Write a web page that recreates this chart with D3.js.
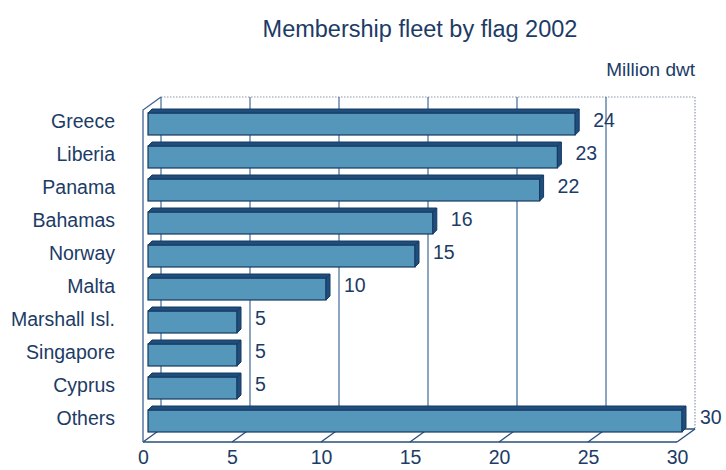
<!DOCTYPE html>
<html>
<head>
<meta charset="utf-8">
<script src="https://cdn.jsdelivr.net/npm/d3@7"></script>
<style>
  html, body { margin: 0; padding: 0; background: #fff; }
  svg { display: block; font-family: "Liberation Sans", Arial, Helvetica, sans-serif; }
</style>
</head>
<body>
<svg id="chart" width="726" height="470"></svg>
<script>
// Membership fleet by flag, 2002 (million dwt)
const flags = ["Greece", "Liberia", "Panama", "Bahamas", "Norway", "Malta",
               "Marshall Isl.", "Singapore", "Cyprus", "Others"];
const dwt = [24, 23, 22, 16, 15, 10, 5, 5, 5, 30];
const xTicks = [0, 5, 10, 15, 20, 25, 30];
const titleText = "Membership fleet by flag 2002";
const unitText = "Million dwt";

const ink = "#1c3b66";
const barFront = "#5597ba";
const barDark = "#1f4d7c";
const barEdge = "#163a63";

const svg = d3.select("#chart");

// Box geometry: front plane plus a back wall shifted by the depth offset
const depthX = 18, depthY = -13;
const frontTop = 110, frontBottom = 442;
const xFront = d3.scaleLinear().domain([0, 30]).range([143, 677]);
const xBack = v => xFront(v) + depthX;
const backTop = frontTop + depthY, backBottom = frontBottom + depthY;
const xBar = d3.scaleLinear().domain([0, 30]).range([148, 682]);
const y = d3.scalePoint().domain(flags).range([124, 421]);
const barH = 22, barD = 4;

// Back wall outline (dotted)
svg.append("path")
  .attr("d", `M${xBack(0)},${backTop}H${xBack(30)}V${backBottom}`)
  .attr("fill", "none").attr("stroke", "#8d99a8").attr("stroke-width", 1.2)
  .attr("stroke-dasharray", "1.5,1.5");

// Back wall gridlines
svg.append("g").selectAll("line").data(xTicks.slice(0, -1)).join("line")
  .attr("x1", d => xBack(d)).attr("x2", d => xBack(d))
  .attr("y1", backTop).attr("y2", backBottom)
  .attr("stroke", "#2e5b8c").attr("stroke-width", 1.1);

// Floor: front edge, back edge, slanted tick lines
const floor = svg.append("g").attr("stroke", "#274d7a").attr("stroke-width", 1.3).attr("fill", "none");
floor.append("line").attr("x1", xFront(0)).attr("x2", xFront(30))
  .attr("y1", frontBottom).attr("y2", frontBottom);
floor.append("line").attr("x1", xBack(0)).attr("x2", xBack(30))
  .attr("y1", backBottom).attr("y2", backBottom);
floor.selectAll("line.tk").data(xTicks).join("line").attr("class", "tk")
  .attr("x1", d => xFront(d)).attr("y1", frontBottom)
  .attr("x2", d => xBack(d)).attr("y2", backBottom);

// Left front edge and top-left slant
svg.append("path")
  .attr("d", `M${xFront(0)},${frontBottom}V${frontTop}L${xBack(0)},${backTop}`)
  .attr("fill", "none").attr("stroke", "#3c6594").attr("stroke-width", 1.3);

// 3D bars
const bars = svg.append("g").selectAll("g").data(flags.map((f, i) => ({ f, v: dwt[i] }))).join("g");
bars.append("rect")
  .attr("x", xBar(0)).attr("y", d => y(d.f) - barH / 2)
  .attr("width", d => xBar(d.v) - xBar(0)).attr("height", barH)
  .attr("fill", barFront).attr("stroke", barEdge).attr("stroke-width", 1.2);
bars.append("path")
  .attr("d", d => {
    const x0 = xBar(0), x1 = xBar(d.v), t = y(d.f) - barH / 2;
    return `M${x0},${t}L${x0 + barD},${t - barD}H${x1 + barD}L${x1},${t}Z`;
  })
  .attr("fill", barDark).attr("stroke", barEdge).attr("stroke-width", 1);
bars.append("path")
  .attr("d", d => {
    const x1 = xBar(d.v), t = y(d.f) - barH / 2, b = t + barH;
    return `M${x1},${t}L${x1 + barD},${t - barD}V${b - barD}L${x1},${b}Z`;
  })
  .attr("fill", barDark).attr("stroke", barEdge).attr("stroke-width", 1);

// Value labels
bars.append("text")
  .attr("x", d => xBar(d.v) + 18).attr("y", d => y(d.f) - 4)
  .attr("dy", "0.35em").attr("fill", ink).attr("font-size", 19.5)
  .text(d => d.v);

// Category axis
const yAxis = svg.append("g").attr("transform", "translate(115,0)")
  .call(d3.axisLeft(y).tickSize(0).tickPadding(0));
yAxis.select(".domain").remove();
yAxis.selectAll("text").attr("fill", ink).attr("font-size", 19.5)
  .attr("font-family", "Liberation Sans, Arial, sans-serif").attr("dy", "0.2em");

// Value axis labels
const xAxis = svg.append("g").attr("transform", `translate(0,${frontBottom})`)
  .call(d3.axisBottom(xFront).tickValues(xTicks).tickSize(0).tickPadding(8));
xAxis.select(".domain").remove();
xAxis.selectAll("text").attr("fill", ink).attr("font-size", 19.5)
  .attr("font-family", "Liberation Sans, Arial, sans-serif");

// Title and unit
svg.append("text").attr("x", 420).attr("y", 37).attr("text-anchor", "middle")
  .attr("fill", ink).attr("font-size", 23.5).text(titleText);
svg.append("text").attr("x", 695).attr("y", 76).attr("text-anchor", "end")
  .attr("fill", ink).attr("font-size", 19).text(unitText);
</script>
</body>
</html>
